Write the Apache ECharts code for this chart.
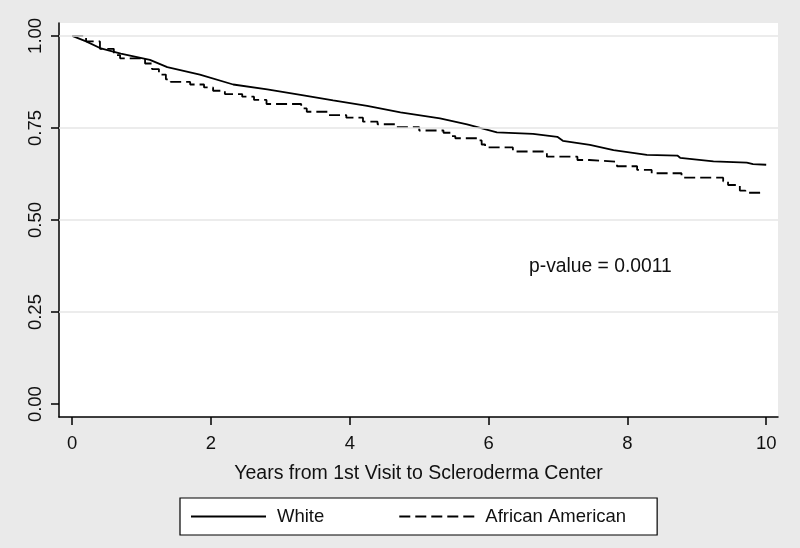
<!DOCTYPE html>
<html>
<head>
<meta charset="utf-8">
<script src="https://cdn.jsdelivr.net/npm/echarts@6/dist/echarts.min.js"></script>
<style>
  html, body { margin: 0; padding: 0; background: #eaeaea; }
  #chart { width: 800px; height: 548px; }
</style>
</head>
<body>
<div id="chart"></div>
<script>
// Kaplan-Meier estimates: [years, survival]
const whiteCurve = [
  [0, 1.0], [0.2, 0.985], [0.4, 0.967], [0.7, 0.952], [1.12, 0.935],
  [1.37, 0.915], [1.84, 0.895], [2.32, 0.868], [2.81, 0.855], [3.29, 0.840],
  [3.76, 0.825], [4.25, 0.810], [4.73, 0.792], [5.30, 0.776], [5.69, 0.760],
  [6.12, 0.738], [6.64, 0.734], [6.99, 0.726], [7.07, 0.715], [7.46, 0.704],
  [7.8, 0.690], [8.28, 0.677], [8.72, 0.675], [8.76, 0.669], [9.24, 0.659],
  [9.72, 0.656], [9.81, 0.652], [10.0, 0.650]
];
const africanAmericanCurve = [
  [0, 1.0], [0.2, 0.985], [0.4, 0.965], [0.6, 0.948], [0.69, 0.939],
  [1.05, 0.925], [1.15, 0.91], [1.25, 0.895], [1.35, 0.882], [1.42, 0.875],
  [1.7, 0.868], [1.9, 0.86], [2.03, 0.851], [2.2, 0.842], [2.45, 0.835],
  [2.62, 0.826], [2.8, 0.815], [3.3, 0.803], [3.38, 0.794], [3.7, 0.785],
  [3.95, 0.778], [4.19, 0.767], [4.4, 0.760], [4.65, 0.752], [5.0, 0.743],
  [5.35, 0.737], [5.45, 0.728], [5.52, 0.722], [5.84, 0.716], [5.9, 0.705],
  [5.95, 0.697], [6.35, 0.686], [6.84, 0.672], [7.28, 0.663], [7.45, 0.658],
  [7.85, 0.646], [8.14, 0.636], [8.35, 0.627], [8.78, 0.615], [9.38, 0.605],
  [9.45, 0.595], [9.62, 0.580], [9.7, 0.574], [9.93, 0.574]
];
const xTicks = [0, 2, 4, 6, 8, 10];
const yTicks = [0, 0.25, 0.5, 0.75, 1.0];
const yGridLines = [0.25, 0.5, 0.75, 1.0];
const pValueText = 'p-value = 0.0011';

const font = 'Liberation Sans, Arial, sans-serif';
const chart = echarts.init(document.getElementById('chart'));

chart.setOption({
  backgroundColor: '#eaeaea',
  animation: false,
  grid: {
    left: 59, right: 22, top: 23, bottom: 131,
    show: true, backgroundColor: '#ffffff', borderWidth: 0
  },
  xAxis: {
    type: 'value',
    min: -0.19, max: 10.17,
    name: 'Years from 1st Visit to Scleroderma Center',
    nameLocation: 'middle',
    nameGap: 47,
    nameTextStyle: { color: '#111', fontSize: 19.5, fontFamily: font },
    axisLine: { show: true, onZero: false, lineStyle: { color: '#000', width: 1.5 } },
    axisTick: { show: true, length: 8, customValues: xTicks, lineStyle: { color: '#000', width: 1.5 } },
    axisLabel: { customValues: xTicks, margin: 17, fontSize: 18.5, color: '#111', fontFamily: font },
    splitLine: { show: false }
  },
  yAxis: {
    type: 'value',
    min: -0.035, max: 1.035,
    axisLine: { show: true, onZero: false, lineStyle: { color: '#000', width: 1.5 } },
    axisTick: { show: true, length: 8, customValues: yTicks, lineStyle: { color: '#000', width: 1.5 } },
    axisLabel: {
      customValues: yTicks, rotate: 90, margin: 14, fontSize: 18.5, color: '#111', fontFamily: font,
      formatter: (v) => v.toFixed(2)
    },
    splitLine: { show: false }
  },
  legend: {
    left: 180, top: 498,
    backgroundColor: '#ffffff', borderColor: '#000', borderWidth: 1.2,
    padding: [9, 31, 9, 10],
    itemWidth: 75, itemHeight: 14, itemGap: 74,
    itemStyle: { color: 'transparent', borderWidth: 0 },
    textStyle: { fontSize: 18.5, color: '#111', fontFamily: font, padding: [0, 0, 0, 6] },
    data: ['White', 'African American']
  },
  graphic: [{
    type: 'text', left: 529, top: 257,
    style: { text: pValueText, fontSize: 19.3, fill: '#111', fontFamily: font }
  }],
  series: [
    {
      name: 'White', type: 'line', data: whiteCurve,
      symbol: 'none', lineStyle: { color: '#000', width: 1.8, type: 'solid' },
      itemStyle: { color: '#000' },
      markLine: {
        silent: true, symbol: 'none', label: { show: false },
        lineStyle: { color: '#e6e6e6', width: 1.5, type: 'solid' },
        data: yGridLines.map((v) => ({ yAxis: v }))
      },
      z: 3
    },
    {
      name: 'African American', type: 'line', data: africanAmericanCurve, step: 'end',
      symbol: 'none', lineStyle: { color: '#000', width: 1.8, type: [11, 5] },
      itemStyle: { color: '#000' },
      z: 3
    }
  ]
});
</script>
</body>
</html>
